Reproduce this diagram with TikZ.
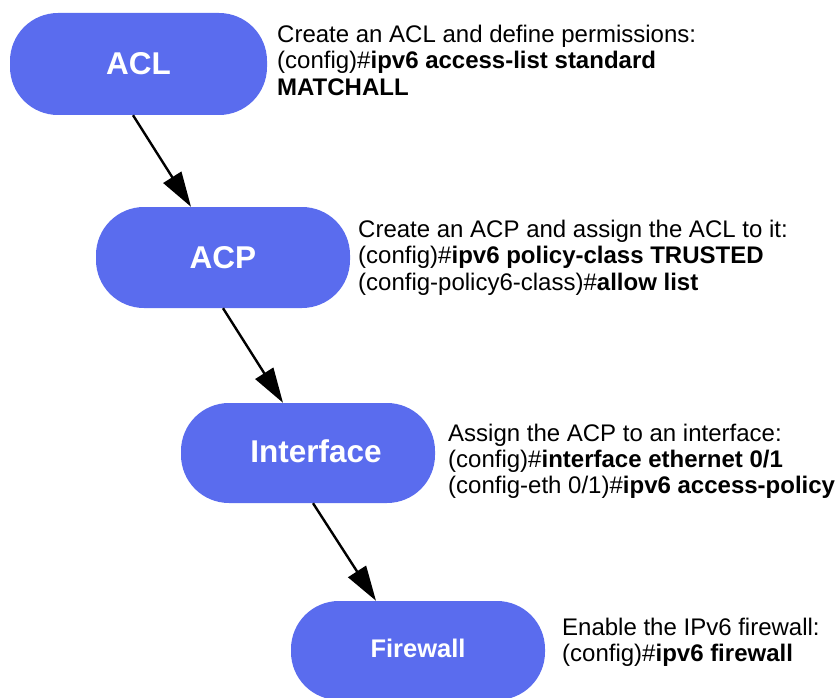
\documentclass[tikz,border=0pt]{standalone}
\usepackage{fontspec}
\setmainfont{Liberation Sans}
\usetikzlibrary{arrows.meta}
\definecolor{stageblue}{RGB}{90,108,238}

\tikzset{
  stage/.style={draw=none, fill=stageblue, text=white, rectangle,
    rounded corners=48pt, inner sep=0pt, minimum width=254pt,
    minimum height=100pt, font=\bfseries\fontsize{31.5}{36}\selectfont},
  desc/.style={anchor=base west, inner sep=0pt, align=left,
    font=\fontsize{24}{26.4}\selectfont},
  flow/.style={draw=black, line width=2.4pt,
    -{Triangle[length=35pt,width=21pt]}}
}

\begin{document}
\begin{tikzpicture}[x=1pt,y=-1pt]
  \useasboundingbox (0,0) rectangle (835,698);

  % process stages
  \node[stage, minimum width=257pt, minimum height=102pt] (acl) at (138.5,64) {ACL};
  \node[stage, minimum height=101pt] (acp) at (223,257.5) {ACP};
  \node[stage] (iface) at (308,453) {\hspace*{16pt}\raisebox{4.5pt}{Interface}};
  \node[stage, minimum height=99pt, font=\bfseries\fontsize{25.5}{30}\selectfont]
    (fw) at (418,650.5) {\raisebox{4.5pt}{Firewall}};

  % configuration commands for each stage
  \node[desc] (acltext) at (277,42.5) {\vtop{%
    \hbox{Create an ACL and define permissions:}%
    \hbox{(config)\#\textbf{ipv6 access-list standard}}%
    \hbox{\textbf{MATCHALL}}}};
  \node[desc] (acptext) at (358,237.5) {\vtop{%
    \hbox{Create an ACP and assign the ACL to it:}%
    \hbox{(config)\#\textbf{ipv6 policy-class TRUSTED}}%
    \hbox{(config-policy6-class)\#\textbf{allow list}}}};
  \node[desc] (ifacetext) at (448,441) {\vtop{%
    \hbox{Assign the ACP to an interface:}%
    \hbox{(config)\#\textbf{interface ethernet 0/1}}%
    \hbox{(config-eth 0/1)\#\textbf{ipv6 access-policy}}}};
  \node[desc] (fwtext) at (562,635.5) {\vtop{%
    \hbox{Enable the IPv6 firewall:}%
    \hbox{(config)\#\textbf{ipv6 firewall}}}};

  % connectors between stages
  \draw[flow] ([xshift=-5.5pt]acl.south) -- ([xshift=-32pt]acp.north);
  \draw[flow] (acp.south) -- ([xshift=-25pt]iface.north);
  \draw[flow] ([xshift=5pt]iface.south) -- ([xshift=-42pt]fw.north);
\end{tikzpicture}
\end{document}
